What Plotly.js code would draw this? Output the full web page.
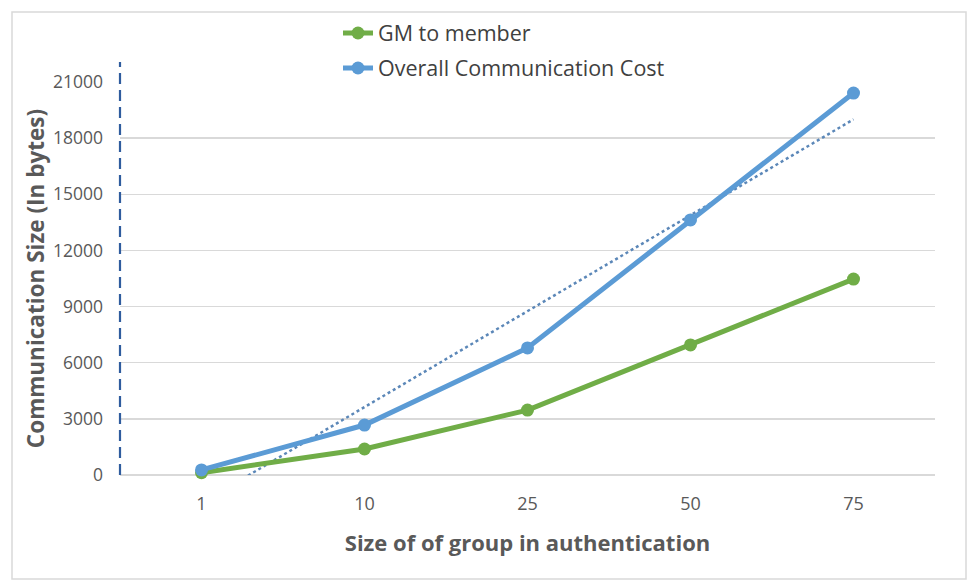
<!DOCTYPE html>
<html>
<head>
<meta charset="utf-8">
<script src="https://cdn.plot.ly/plotly-3.0.1.min.js"></script>
<style>
html,body{margin:0;padding:0;background:#fff;}
#chart{width:970px;height:580px;}
</style>
</head>
<body>
<div id="chart"></div>
<script>
// ---- data ----
const groupSizes = ['1', '10', '25', '50', '75'];
const gmToMember = [120, 1390, 3470, 6950, 10470];
const overallCost = [270, 2670, 6790, 13630, 20410];
const yTickValues = [0, 3000, 6000, 9000, 12000, 15000, 18000, 21000];
const seriesNames = ['GM to member', 'Overall Communication Cost'];

// linear trendline (least squares over category index), like the spreadsheet's trendline
const idx = groupSizes.map((_, i) => i + 1);
const n = idx.length;
const mx = idx.reduce((a, b) => a + b, 0) / n;
const my = overallCost.reduce((a, b) => a + b, 0) / n;
let sxy = 0, sxx = 0;
idx.forEach((x, i) => { sxy += (x - mx) * (overallCost[i] - my); sxx += (x - mx) * (x - mx); });
const slope = sxy / sxx, intercept = my - slope * mx;
const trend = idx.map(x => intercept + slope * x);

const W = 970, H = 580, L = 120, R = 35, T = 82, B = 105;
const pw = W - L - R, ph = H - T - B;
const px = v => (v - L) / pw;
const py = v => (H - B - v) / ph;

const FONT = 'Open Sans, DejaVu Sans, sans-serif';

const traces = [
  {
    x: groupSizes, y: trend, type: 'scatter', mode: 'lines',
    line: {color: '#5b87b8', width: 2.5, dash: 'dot'},
    showlegend: false, hoverinfo: 'skip'
  },
  {
    x: groupSizes, y: gmToMember, type: 'scatter', mode: 'lines+markers',
    name: seriesNames[0], legend: 'legend',
    line: {color: '#70ad47', width: 5},
    marker: {color: '#70ad47', size: 13},
    cliponaxis: false
  },
  {
    x: groupSizes, y: overallCost, type: 'scatter', mode: 'lines+markers',
    name: seriesNames[1], legend: 'legend2',
    line: {color: '#5b9bd5', width: 5},
    marker: {color: '#5b9bd5', size: 13},
    cliponaxis: false
  }
];

const legendCommon = {
  orientation: 'v', xanchor: 'left', yanchor: 'middle',
  bgcolor: 'rgba(0,0,0,0)',
  font: {family: FONT, size: 21.5, color: '#404040'},
  itemwidth: 30
};

const layout = {
  width: W, height: H,
  margin: {l: L, r: R, t: T, b: B},
  paper_bgcolor: '#ffffff', plot_bgcolor: '#ffffff',
  font: {family: FONT, color: '#595959'},
  showlegend: true,
  legend: Object.assign({}, legendCommon, {x: px(338), y: py(33)}),
  legend2: Object.assign({}, legendCommon, {x: px(338), y: py(68)}),
  xaxis: {
    type: 'category', categoryorder: 'array', categoryarray: groupSizes,
    range: [-0.5, groupSizes.length - 0.5],
    showgrid: false, zeroline: false,
    showline: false, ticks: '',
    tickfont: {family: FONT, size: 18, color: '#595959'},
    ticklabelstandoff: 16,
    title: {text: 'Size of of group in authentication', font: {family: FONT, size: 22, color: '#595959', weight: 'bold'}}
  },
  yaxis: {
    range: [0, 21000], tickvals: yTickValues, ticktext: yTickValues.map(String),
    showgrid: true, gridcolor: '#d9d9d9', gridwidth: 1.5,
    zeroline: true, zerolinecolor: '#d9d9d9', zerolinewidth: 1.5,
    showline: false, ticks: '',
    tickfont: {family: FONT, size: 17.5, color: '#595959'},
    ticklabelstandoff: 16,
    title: {text: 'Communication Size (In bytes)', font: {family: FONT, size: 22.5, color: '#595959', weight: 'bold'}}
  },
  shapes: [
    {type: 'line', xref: 'paper', yref: 'paper', x0: 0, x1: 0, y0: 0, y1: py(62),
     line: {color: '#2f5c9e', width: 2.2, dash: '11px,6px'}},
    {type: 'rect', xref: 'paper', yref: 'paper', x0: px(12), x1: px(966), y0: py(579), y1: py(12),
     line: {color: '#d9d9d9', width: 1.5}, fillcolor: 'rgba(0,0,0,0)', layer: 'below'}
  ]
};

Plotly.newPlot('chart', traces, layout, {displayModeBar: false, staticPlot: true});
</script>
</body>
</html>
